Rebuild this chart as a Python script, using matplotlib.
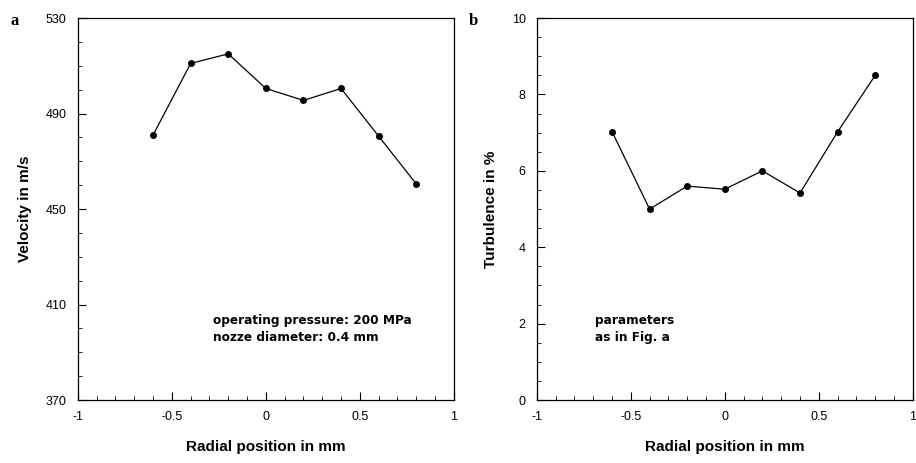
import matplotlib.pyplot as plt
from matplotlib.ticker import MultipleLocator

radial_pos = [-0.6, -0.4, -0.2, 0.0, 0.2, 0.4, 0.6, 0.8]
velocity = [481, 511, 515, 500.5, 495.5, 500.5, 480.5, 460.5]
turbulence = [7.03, 5.0, 5.6, 5.52, 6.0, 5.42, 7.02, 8.5]
velocity_ticks = [370, 410, 450, 490, 530]

plt.rcParams['font.family'] = ['Liberation Sans', 'DejaVu Sans']

fig = plt.figure(figsize=(9.16, 4.63), dpi=100)
ax1 = fig.add_axes([0.085, 0.136, 0.4105, 0.825])
ax2 = fig.add_axes([0.586, 0.136, 0.4105, 0.825])


def style(ax):
    ax.set_xlim(-1, 1)
    ax.xaxis.set_major_locator(MultipleLocator(0.5))
    ax.xaxis.set_minor_locator(MultipleLocator(0.1))
    ax.xaxis.set_major_formatter(lambda v, p: '0' if abs(v) < 1e-9 else f'{v:g}')
    ax.tick_params(which='both', direction='in', top=False, right=False, labelsize=9, pad=8)
    ax.tick_params(which='major', length=6, width=0.8)
    ax.tick_params(which='minor', length=3, width=0.6)
    for s in ax.spines.values():
        s.set_linewidth(0.9)
    ax.set_xlabel('Radial position in mm', fontsize=11, fontweight='bold', labelpad=12)


# panel a
ax1.plot(radial_pos, velocity, color='black', lw=0.9, marker='o', ms=4)
ax1.set_ylim(370, 530)
ax1.set_yticks(velocity_ticks)
ax1.yaxis.set_minor_locator(MultipleLocator(10))
style(ax1)
ax1.set_ylabel('Velocity in m/s', fontsize=11, fontweight='bold', labelpad=10)
ax1.text(0.36, 0.225, 'operating pressure: 200 MPa\nnozze diameter: 0.4 mm',
         transform=ax1.transAxes, fontsize=8.7, fontweight='bold', family='DejaVu Sans',
         va='top', linespacing=1.4)
fig.text(0.012, 0.955, 'a', fontsize=12, fontweight='bold', family='Liberation Serif', va='center')

# panel b
ax2.plot(radial_pos, turbulence, color='black', lw=0.9, marker='o', ms=4)
ax2.set_ylim(0, 10)
ax2.yaxis.set_major_locator(MultipleLocator(2))
ax2.yaxis.set_minor_locator(MultipleLocator(0.5))
style(ax2)
ax2.set_ylabel('Turbulence in %', fontsize=11, fontweight='bold', labelpad=10)
ax2.text(0.155, 0.225, 'parameters\nas in Fig. a',
         transform=ax2.transAxes, fontsize=8.7, fontweight='bold', family='DejaVu Sans',
         va='top', linespacing=1.4)
fig.text(0.512, 0.955, 'b', fontsize=12, fontweight='bold', family='Liberation Serif', va='center')

plt.savefig("out.png")
